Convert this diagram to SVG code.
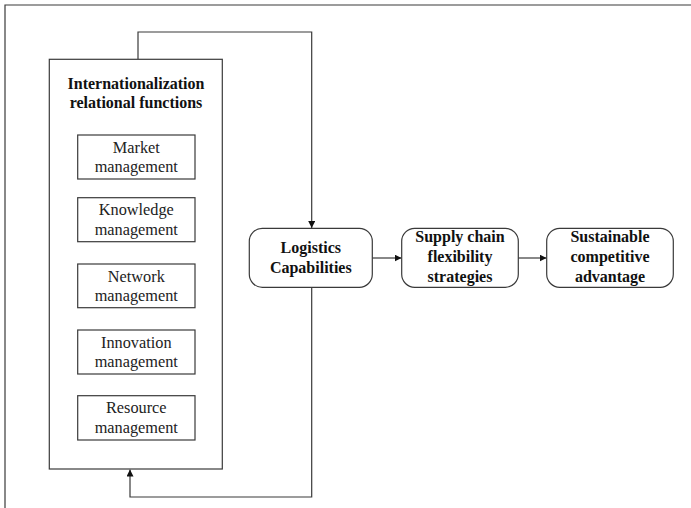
<svg xmlns="http://www.w3.org/2000/svg" width="691" height="508" viewBox="0 0 691 508">
<style>
.ln{fill:none;stroke:#3a3a3a;stroke-width:1.2}
.bx{fill:#fff;stroke:#3a3a3a;stroke-width:1.2}
.t{font-family:"Liberation Serif",serif;font-size:16.3px;fill:#222;text-anchor:middle}
.b{font-family:"Liberation Serif",serif;font-size:16px;font-weight:bold;fill:#111;text-anchor:middle}
</style>
<defs>
<marker id="ah" viewBox="0 0 10 10" refX="10" refY="5" markerWidth="7" markerHeight="7" orient="auto" markerUnits="userSpaceOnUse"><path d="M0,0L10,5L0,10z" fill="#111"/></marker>
</defs>
<rect width="691" height="508" fill="#fff"/>
<path class="ln" d="M5,508V5H691"/>
<g id="connectors">
<path class="ln" d="M138,59V32H311.7V228" marker-end="url(#ah)"/>
<path class="ln" d="M311.7,287V497H130V469.5" marker-end="url(#ah)"/>
<path class="ln" d="M372,258H401.5" marker-end="url(#ah)"/>
<path class="ln" d="M518,258H546.5" marker-end="url(#ah)"/>
</g>
<g id="irf">
<rect class="bx" x="49.3" y="59.3" width="173" height="409.7"/>
<text class="b" x="136" y="89">Internationalization</text>
<text class="b" x="136" y="108">relational functions</text>
</g>
<g id="market"><rect class="bx" x="77.7" y="135" width="117.3" height="44"/><text class="t" x="136.3" y="152.5">Market</text><text class="t" x="136.3" y="172">management</text></g>
<g id="knowledge"><rect class="bx" x="77.7" y="197.7" width="117.3" height="44"/><text class="t" x="136.3" y="215.2">Knowledge</text><text class="t" x="136.3" y="234.7">management</text></g>
<g id="network"><rect class="bx" x="77.7" y="264" width="117.3" height="43.7"/><text class="t" x="136.3" y="281.5">Network</text><text class="t" x="136.3" y="301">management</text></g>
<g id="innovation"><rect class="bx" x="77.7" y="330" width="117.3" height="44"/><text class="t" x="136.3" y="347.5">Innovation</text><text class="t" x="136.3" y="367">management</text></g>
<g id="resource"><rect class="bx" x="77.7" y="395.7" width="117.3" height="44.3"/><text class="t" x="136.3" y="413.2">Resource</text><text class="t" x="136.3" y="432.7">management</text></g>
<g id="logistics"><rect class="bx" x="249.3" y="228.3" width="123" height="59" rx="13"/><text class="b" x="310.8" y="252.7">Logistics</text><text class="b" x="310.8" y="272.7">Capabilities</text></g>
<g id="supply"><rect class="bx" x="401.7" y="228.3" width="116.6" height="59" rx="13"/><text class="b" x="460" y="242.3">Supply chain</text><text class="b" x="460" y="262.3">flexibility</text><text class="b" x="460" y="281.7">strategies</text></g>
<g id="sustainable"><rect class="bx" x="546.7" y="228.3" width="126.6" height="59" rx="13"/><text class="b" x="610" y="242.3">Sustainable</text><text class="b" x="610" y="262.3">competitive</text><text class="b" x="610" y="281.7">advantage</text></g>
</svg>
